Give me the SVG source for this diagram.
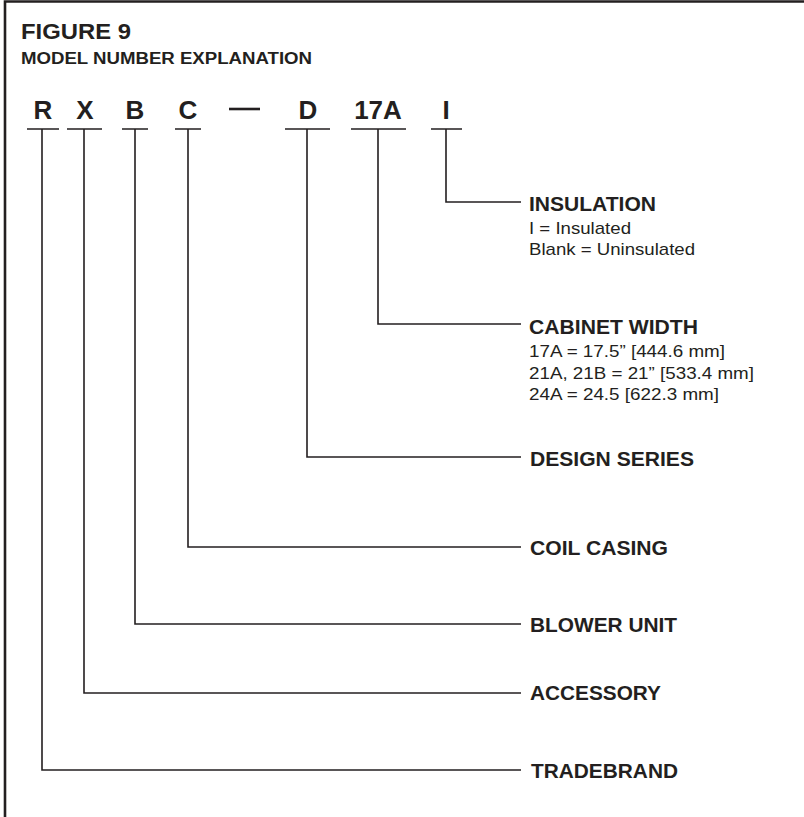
<svg xmlns="http://www.w3.org/2000/svg" width="804" height="817" viewBox="0 0 804 817">
<style>
.b{font-family:"Liberation Sans",Arial,sans-serif;font-weight:bold;fill:#231f20}
.r{font-family:"Liberation Sans",Arial,sans-serif;fill:#231f20}
.code{font-size:26px;text-anchor:middle}
.lab{font-size:21px}
.sub{font-size:17px}
.ln{stroke:#231f20;stroke-width:1.6;fill:none}
</style>
<rect x="0" y="0" width="804" height="817" fill="#ffffff"/>
<path d="M5,817 V1.5 H804" style="stroke:#231f20;stroke-width:2.6;fill:none"/>
<g id="title">
<text class="b" x="21" y="38.5" font-size="22.5" textLength="110" lengthAdjust="spacingAndGlyphs">FIGURE 9</text>
<text class="b" x="21" y="64" font-size="16" textLength="291" lengthAdjust="spacingAndGlyphs">MODEL NUMBER EXPLANATION</text>
</g>
<g id="code">
<text class="b code" x="43" y="118.5">R</text>
<text class="b code" x="85" y="118.5">X</text>
<text class="b code" x="135" y="118.5">B</text>
<text class="b code" x="188" y="118.5">C</text>
<line x1="229" y1="109" x2="260" y2="109" style="stroke:#231f20;stroke-width:2.6"/>
<text class="b code" x="308" y="118.5">D</text>
<text class="b code" x="378" y="118.5">17A</text>
<text class="b code" x="446" y="118.5">I</text>
</g>
<g id="connectors">
<path class="ln" d="M27,129 H59 M67,129 H102 M122,129 H148 M175,129 H201 M285,129 H330 M351,129 H406 M431,129 H462"/>
<path class="ln" d="M42,129 V770 H521"/>
<path class="ln" d="M84,129 V693 H521"/>
<path class="ln" d="M135,129 V624 H521"/>
<path class="ln" d="M188,129 V547 H521"/>
<path class="ln" d="M307,129 V457 H521"/>
<path class="ln" d="M378,129 V324 H521"/>
<path class="ln" d="M446,129 V202 H521"/>
</g>
<g id="insulation">
<text class="b lab" x="529" y="211" textLength="127" lengthAdjust="spacingAndGlyphs">INSULATION</text>
<text class="r sub" x="529" y="234" textLength="102" lengthAdjust="spacingAndGlyphs">I = Insulated</text>
<text class="r sub" x="529" y="255" textLength="166" lengthAdjust="spacingAndGlyphs">Blank = Uninsulated</text>
</g>
<g id="cabinet-width">
<text class="b lab" x="529" y="334" textLength="169" lengthAdjust="spacingAndGlyphs">CABINET WIDTH</text>
<text class="r sub" x="529" y="357" textLength="196" lengthAdjust="spacingAndGlyphs">17A = 17.5” [444.6 mm]</text>
<text class="r sub" x="529" y="379" textLength="225" lengthAdjust="spacingAndGlyphs">21A, 21B = 21” [533.4 mm]</text>
<text class="r sub" x="529" y="400" textLength="190" lengthAdjust="spacingAndGlyphs">24A = 24.5 [622.3 mm]</text>
</g>
<g id="design-series">
<text class="b lab" x="530" y="466" textLength="164" lengthAdjust="spacingAndGlyphs">DESIGN SERIES</text>
</g>
<g id="coil-casing">
<text class="b lab" x="530" y="555" textLength="138" lengthAdjust="spacingAndGlyphs">COIL CASING</text>
</g>
<g id="blower-unit">
<text class="b lab" x="530" y="632" textLength="147" lengthAdjust="spacingAndGlyphs">BLOWER UNIT</text>
</g>
<g id="accessory">
<text class="b lab" x="530" y="700" textLength="131" lengthAdjust="spacingAndGlyphs">ACCESSORY</text>
</g>
<g id="tradebrand">
<text class="b lab" x="531" y="778" textLength="147" lengthAdjust="spacingAndGlyphs">TRADEBRAND</text>
</g>
</svg>
